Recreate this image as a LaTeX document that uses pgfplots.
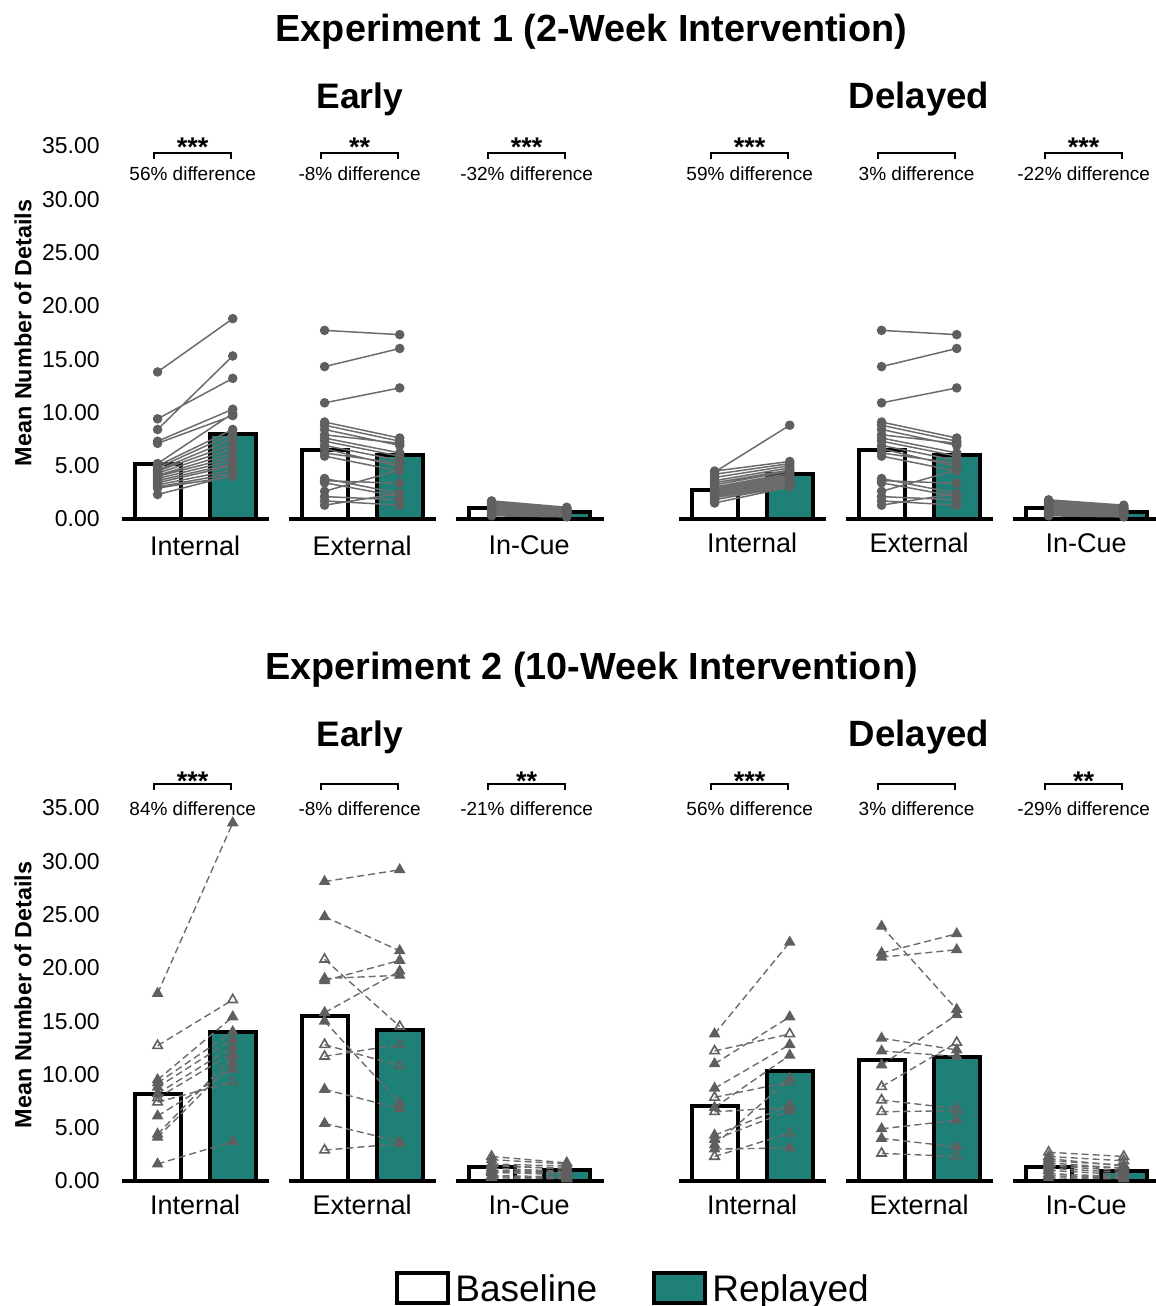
\documentclass[border=0pt]{standalone}
\usepackage{pgfplots}
\pgfplotsset{compat=1.18}
\usepackage{fontspec}
\setmainfont{Liberation Sans}
\newcommand\fs[1]{\fontsize{#1}{#1}\selectfont}
\definecolor{linegray}{RGB}{108,108,108}
\definecolor{ptgray}{RGB}{95,95,95}
\definecolor{tealbar}{RGB}{31,128,119}
\pgfplotsset{
  panel/.style={scale only axis, x=83.5pt, y=5.3285pt,
    xmin=-0.45, xmax=2.45, ymin=0, ymax=35, clip=false,
    unbounded coords=jump,
    axis line style={draw=none}, tick style={draw=none}, major tick length=0pt,
    xtick={0,1,2}, xticklabels={Internal,External,In-Cue},
    xticklabel style={anchor=north, inner sep=0pt, yshift=-7pt, font=\fs{13.5}},
    ytick={0,5,...,35},
    yticklabel style={anchor=east, inner sep=0pt, xshift=-10pt, font=\fs{11.5}},
    /pgf/number format/.cd, fixed, fixed zerofill, precision=2, assume math mode=true},
  bbar/.style={ybar, bar width=0.275, bar shift=0pt, fill=white, draw=black, line width=2pt},
  rbar/.style={ybar, bar width=0.275, bar shift=0pt, fill=tealbar, draw=black, line width=2pt},
  seg/.style={black, line width=2pt, mark=none},
  e1/.style={color=linegray, line width=0.75pt, mark=*, mark size=2pt, mark options={fill=ptgray, draw=ptgray}},
  e2f/.style={color=linegray, line width=0.7pt, dash pattern=on 3.5pt off 2pt, mark=triangle*, mark size=2.7pt, mark options={solid, fill=ptgray, draw=ptgray}},
  e2o/.style={color=linegray, line width=0.7pt, dash pattern=on 3.5pt off 2pt, mark=triangle, mark size=2.7pt, mark options={solid, draw=ptgray, line width=0.8pt}},
}
% #1 center, #2 stars, #3 text, #4 bracket y, #5 stars baseline y, #6 text baseline y
\newcommand\annot[6]{%
  \draw[line width=1pt] (axis cs:#1-0.245,#4-0.55) -- (axis cs:#1-0.245,#4) -- (axis cs:#1+0.215,#4) -- (axis cs:#1+0.215,#4-0.55);
  \node[anchor=base, font=\bfseries\fs{13.5}, inner sep=0pt] at (axis cs:#1-0.015,#5) {#2};
  \node[anchor=base, font=\fs{9.5}, inner sep=0pt] at (axis cs:#1-0.015,#6) {#3};
}
\newcommand\segs{%
  \addplot[seg] coordinates {(-0.44,0) (0.44,0)};
  \addplot[seg] coordinates {(0.56,0) (1.44,0)};
  \addplot[seg] coordinates {(1.56,0) (2.45,0)};
}
\begin{document}
\begin{tikzpicture}
\useasboundingbox (0,0) rectangle (578pt,-653pt);
% titles
\node[anchor=base, font=\bfseries\fs{18.9}] at (295.75pt,-20.5pt) {Experiment 1 (2-Week Intervention)};
\node[anchor=base, font=\bfseries\fs{17.7}] at (180pt,-54pt) {Early};
\node[anchor=base, font=\bfseries\fs{18.3}] at (459.5pt,-54pt) {Delayed};
\node[anchor=base, font=\bfseries\fs{18.9}] at (295.75pt,-339.5pt) {Experiment 2 (10-Week Intervention)};
\node[anchor=base, font=\bfseries\fs{17.7}] at (180pt,-373pt) {Early};
\node[anchor=base, font=\bfseries\fs{18.3}] at (459.5pt,-373pt) {Delayed};
\node[rotate=90, font=\bfseries\fs{11.7}] at (11.5pt,-166.5pt) {Mean Number of Details};
\node[rotate=90, font=\bfseries\fs{11.7}] at (11.5pt,-497.5pt) {Mean Number of Details};

% ---------------- Experiment 1, Early ----------------
\begin{axis}[panel, at={(60pt,-259.5pt)}, anchor=south west, xticklabel style={yshift=-1.25pt}]
\addplot[bbar] coordinates {(-0.225,5.2) (0.775,6.5) (1.775,1.05)};
\addplot[rbar] coordinates {(0.225,7.95) (1.225,6.0) (2.225,0.65)};
\segs
\addplot[e1] coordinates {(-0.225,13.8) (0.225,18.8) (0,nan) (-0.225,9.4) (0.225,13.2) (0,nan) (-0.225,8.4) (0.225,15.3) (0,nan) (-0.225,7.3) (0.225,10.3) (0,nan) (-0.225,7.1) (0.225,9.7) (0,nan) (-0.225,5.2) (0.225,9.9) (0,nan) (-0.225,5.0) (0.225,8.4) (0,nan) (-0.225,4.8) (0.225,8.0) (0,nan) (-0.225,4.6) (0.225,7.5) (0,nan) (-0.225,4.5) (0.225,7.0) (0,nan) (-0.225,4.3) (0.225,6.6) (0,nan) (-0.225,4.1) (0.225,6.2) (0,nan) (-0.225,4.0) (0.225,5.8) (0,nan) (-0.225,3.8) (0.225,5.5) (0,nan) (-0.225,3.6) (0.225,5.2) (0,nan) (-0.225,3.4) (0.225,5.0) (0,nan) (-0.225,3.2) (0.225,4.6) (0,nan) (-0.225,3.0) (0.225,4.3) (0,nan) (-0.225,2.9) (0.225,4.0) (0,nan) (-0.225,2.3) (0.225,4.1)};
\addplot[e1] coordinates {(0.775,17.7) (1.225,17.3) (1,nan) (0.775,14.3) (1.225,16.0) (1,nan) (0.775,10.9) (1.225,12.3) (1,nan) (0.775,9.1) (1.225,7.6) (1,nan) (0.775,8.8) (1.225,7.3) (1,nan) (0.775,8.4) (1.225,6.9) (1,nan) (0.775,7.9) (1.225,7.1) (1,nan) (0.775,7.6) (1.225,6.2) (1,nan) (0.775,7.3) (1.225,5.9) (1,nan) (0.775,6.9) (1.225,5.5) (1,nan) (0.775,6.6) (1.225,4.9) (1,nan) (0.775,6.2) (1.225,5.2) (1,nan) (0.775,5.9) (1.225,4.5) (1,nan) (0.775,3.8) (1.225,2.4) (1,nan) (0.775,3.6) (1.225,3.35) (1,nan) (0.775,3.4) (1.225,2.1) (1,nan) (0.775,2.6) (1.225,4.6) (1,nan) (0.775,2.1) (1.225,1.8) (1,nan) (0.775,1.7) (1.225,1.3) (1,nan) (0.775,1.3) (1.225,2.4)};
\addplot[e1] coordinates {(1.775,1.7) (2.225,1.1) (2,nan) (1.775,1.6) (2.225,1.0) (2,nan) (1.775,1.5) (2.225,1.0) (2,nan) (1.775,1.4) (2.225,0.9) (2,nan) (1.775,1.3) (2.225,0.8) (2,nan) (1.775,1.2) (2.225,0.8) (2,nan) (1.775,1.1) (2.225,0.7) (2,nan) (1.775,1.0) (2.225,0.7) (2,nan) (1.775,0.9) (2.225,0.6) (2,nan) (1.775,0.8) (2.225,0.6) (2,nan) (1.775,0.7) (2.225,0.5) (2,nan) (1.775,0.6) (2.225,0.4) (2,nan) (1.775,0.5) (2.225,0.4) (2,nan) (1.775,0.4) (2.225,0.3) (2,nan) (1.775,0.3) (2.225,0.2)};
\annot{0}{***}{56\% difference}{34.37}{34.06}{31.8}
\annot{1}{**}{-8\% difference}{34.37}{34.06}{31.8}
\annot{2}{***}{-32\% difference}{34.37}{34.06}{31.8}
\end{axis}

% ---------------- Experiment 1, Delayed ----------------
\begin{axis}[panel, at={(338.5pt,-259.5pt)}, anchor=south west, ytick=\empty]
\addplot[bbar] coordinates {(-0.225,2.75) (0.775,6.5) (1.775,1.06)};
\addplot[rbar] coordinates {(0.225,4.2) (1.225,6.0) (2.225,0.69)};
\segs
\addplot[e1] coordinates {(-0.225,4.4) (0.225,8.8) (0,nan) (-0.225,4.5) (0.225,5.4) (0,nan) (-0.225,4.2) (0.225,5.2) (0,nan) (-0.225,3.9) (0.225,5.0) (0,nan) (-0.225,3.6) (0.225,4.8) (0,nan) (-0.225,3.4) (0.225,4.6) (0,nan) (-0.225,3.2) (0.225,4.5) (0,nan) (-0.225,3.0) (0.225,4.3) (0,nan) (-0.225,2.9) (0.225,4.1) (0,nan) (-0.225,2.8) (0.225,4.0) (0,nan) (-0.225,2.7) (0.225,3.9) (0,nan) (-0.225,2.6) (0.225,3.8) (0,nan) (-0.225,2.5) (0.225,3.7) (0,nan) (-0.225,2.4) (0.225,3.6) (0,nan) (-0.225,2.3) (0.225,3.5) (0,nan) (-0.225,2.2) (0.225,3.4) (0,nan) (-0.225,2.1) (0.225,3.3) (0,nan) (-0.225,2.0) (0.225,3.2) (0,nan) (-0.225,1.8) (0.225,3.1) (0,nan) (-0.225,1.5) (0.225,3.0)};
\addplot[e1] coordinates {(0.775,17.7) (1.225,17.3) (1,nan) (0.775,14.3) (1.225,16.0) (1,nan) (0.775,10.9) (1.225,12.3) (1,nan) (0.775,9.1) (1.225,7.6) (1,nan) (0.775,8.8) (1.225,7.3) (1,nan) (0.775,8.4) (1.225,6.9) (1,nan) (0.775,7.9) (1.225,7.1) (1,nan) (0.775,7.6) (1.225,6.2) (1,nan) (0.775,7.3) (1.225,5.9) (1,nan) (0.775,6.9) (1.225,5.5) (1,nan) (0.775,6.6) (1.225,4.9) (1,nan) (0.775,6.2) (1.225,5.2) (1,nan) (0.775,5.9) (1.225,4.5) (1,nan) (0.775,3.8) (1.225,2.4) (1,nan) (0.775,3.6) (1.225,3.35) (1,nan) (0.775,3.4) (1.225,2.1) (1,nan) (0.775,2.6) (1.225,4.6) (1,nan) (0.775,2.1) (1.225,1.8) (1,nan) (0.775,1.7) (1.225,1.3) (1,nan) (0.775,1.3) (1.225,2.4)};
\addplot[e1] coordinates {(1.775,1.8) (2.225,1.3) (2,nan) (1.775,1.7) (2.225,1.2) (2,nan) (1.775,1.6) (2.225,1.1) (2,nan) (1.775,1.5) (2.225,1.0) (2,nan) (1.775,1.4) (2.225,0.9) (2,nan) (1.775,1.3) (2.225,0.9) (2,nan) (1.775,1.2) (2.225,0.8) (2,nan) (1.775,1.1) (2.225,0.8) (2,nan) (1.775,1.0) (2.225,0.7) (2,nan) (1.775,0.9) (2.225,0.6) (2,nan) (1.775,0.8) (2.225,0.5) (2,nan) (1.775,0.7) (2.225,0.5) (2,nan) (1.775,0.6) (2.225,0.4) (2,nan) (1.775,0.5) (2.225,0.3) (2,nan) (1.775,0.4) (2.225,0.3) (2,nan) (1.775,0.3) (2.225,0.2)};
\annot{0}{***}{59\% difference}{34.37}{34.06}{31.8}
\annot{1}{}{3\% difference}{34.37}{34.06}{31.8}
\annot{2}{***}{-22\% difference}{34.37}{34.06}{31.8}
\end{axis}

% ---------------- Experiment 2, Early ----------------
\begin{axis}[panel, at={(60pt,-590.5pt)}, anchor=south west]
\addplot[bbar] coordinates {(-0.225,8.2) (0.775,15.5) (1.775,1.35)};
\addplot[rbar] coordinates {(0.225,14.0) (1.225,14.2) (2.225,1.03)};
\segs
\addplot[e2f] coordinates {(-0.225,17.6) (0.225,33.6) (0,nan) (-0.225,9.5) (0.225,15.4) (0,nan) (-0.225,9.2) (0.225,14.0) (0,nan) (-0.225,8.8) (0.225,13.3) (0,nan) (-0.225,8.2) (0.225,12.6) (0,nan) (-0.225,6.1) (0.225,10.5) (0,nan) (-0.225,4.4) (0.225,11.7) (0,nan) (-0.225,4.1) (0.225,11.1) (0,nan) (-0.225,1.6) (0.225,3.7)};
\addplot[e2o] coordinates {(-0.225,12.7) (0.225,17.0) (0,nan) (-0.225,7.8) (0.225,12.0) (0,nan) (-0.225,7.4) (0.225,9.3)};
\addplot[e2f] coordinates {(0.775,28.1) (1.225,29.2) (1,nan) (0.775,24.8) (1.225,21.6) (1,nan) (0.775,19.0) (1.225,19.3) (1,nan) (0.775,18.8) (1.225,20.7) (1,nan) (0.775,15.8) (1.225,19.7) (1,nan) (0.775,15.0) (1.225,7.3) (1,nan) (0.775,8.6) (1.225,6.8) (1,nan) (0.775,5.4) (1.225,3.7)};
\addplot[e2o] coordinates {(0.775,20.8) (1.225,14.5) (1,nan) (0.775,12.8) (1.225,10.8) (1,nan) (0.775,11.7) (1.225,12.8) (1,nan) (0.775,2.9) (1.225,3.5)};
\addplot[e2f] coordinates {(1.775,2.0) (2.225,1.6) (2,nan) (1.775,1.6) (2.225,1.4) (2,nan) (1.775,1.4) (2.225,1.2) (2,nan) (1.775,1.2) (2.225,0.9) (2,nan) (1.775,1.0) (2.225,0.8) (2,nan) (1.775,0.8) (2.225,0.6) (2,nan) (1.775,0.5) (2.225,0.4) (2,nan) (1.775,0.3) (2.225,0.2)};
\addplot[e2o] coordinates {(1.775,2.3) (2.225,1.7) (2,nan) (1.775,1.5) (2.225,1.1) (2,nan) (1.775,0.9) (2.225,0.7) (2,nan) (1.775,0.4) (2.225,0.3)};
\annot{0}{***}{84\% difference}{37.25}{36.6}{34.34}
\annot{1}{}{-8\% difference}{37.25}{36.6}{34.34}
\annot{2}{**}{-21\% difference}{37.25}{36.6}{34.34}
\end{axis}

% ---------------- Experiment 2, Delayed ----------------
\begin{axis}[panel, at={(338.5pt,-590.5pt)}, anchor=south west, ytick=\empty]
\addplot[bbar] coordinates {(-0.225,7.0) (0.775,11.4) (1.775,1.35)};
\addplot[rbar] coordinates {(0.225,10.3) (1.225,11.6) (2.225,0.97)};
\segs
\addplot[e2f] coordinates {(-0.225,13.8) (0.225,22.4) (0,nan) (-0.225,11.0) (0.225,15.4) (0,nan) (-0.225,8.7) (0.225,12.8) (0,nan) (-0.225,6.9) (0.225,11.8) (0,nan) (-0.225,4.3) (0.225,7.1) (0,nan) (-0.225,3.9) (0.225,6.6) (0,nan) (-0.225,3.4) (0.225,9.6) (0,nan) (-0.225,3.0) (0.225,3.1)};
\addplot[e2o] coordinates {(-0.225,12.2) (0.225,13.8) (0,nan) (-0.225,7.85) (0.225,9.3) (0,nan) (-0.225,6.5) (0.225,6.9) (0,nan) (-0.225,2.3) (0.225,4.5)};
\addplot[e2f] coordinates {(0.775,23.9) (1.225,16.1) (1,nan) (0.775,21.4) (1.225,23.2) (1,nan) (0.775,21.0) (1.225,21.7) (1,nan) (0.775,13.4) (1.225,12.3) (1,nan) (0.775,12.2) (1.225,11.7) (1,nan) (0.775,10.9) (1.225,15.6) (1,nan) (0.775,4.9) (1.225,5.7) (1,nan) (0.775,4.0) (1.225,3.2)};
\addplot[e2o] coordinates {(0.775,8.85) (1.225,13.0) (1,nan) (0.775,7.6) (1.225,6.8) (1,nan) (0.775,6.5) (1.225,6.6) (1,nan) (0.775,2.6) (1.225,2.3)};
\addplot[e2f] coordinates {(1.775,2.1) (2.225,1.4) (2,nan) (1.775,1.7) (2.225,1.2) (2,nan) (1.775,1.4) (2.225,1.0) (2,nan) (1.775,1.2) (2.225,0.8) (2,nan) (1.775,1.0) (2.225,0.6) (2,nan) (1.775,0.7) (2.225,0.4) (2,nan) (1.775,0.5) (2.225,0.3) (2,nan) (1.775,0.3) (2.225,0.2)};
\addplot[e2o] coordinates {(1.775,2.7) (2.225,2.3) (2,nan) (1.775,2.3) (2.225,1.9) (2,nan) (1.775,1.9) (2.225,1.5) (2,nan) (1.775,1.5) (2.225,1.2)};
\annot{0}{***}{56\% difference}{37.25}{36.6}{34.34}
\annot{1}{}{3\% difference}{37.25}{36.6}{34.34}
\annot{2}{**}{-29\% difference}{37.25}{36.6}{34.34}
\end{axis}

% legend
\draw[line width=2pt, fill=white] (198.5pt,-636.5pt) rectangle (224pt,-651.5pt);
\node[anchor=base west, inner sep=0pt, font=\fs{18.5}] at (227.5pt,-650.5pt) {Baseline};
\draw[line width=2pt, fill=tealbar] (327pt,-636.5pt) rectangle (352.5pt,-651.5pt);
\node[anchor=base west, inner sep=0pt, font=\fs{18.5}] at (356pt,-650.5pt) {Replayed};
\end{tikzpicture}
\end{document}
